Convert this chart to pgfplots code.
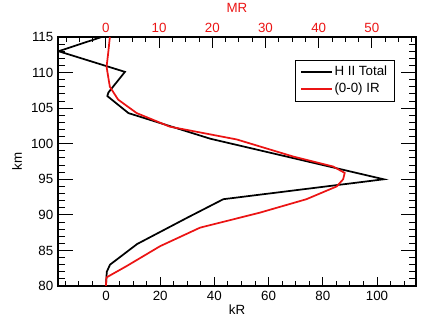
\documentclass[border=0pt]{standalone}
\usepackage{pgfplots}
\pgfplotsset{compat=1.18}
\usepackage{fontspec}
\setmainfont{Liberation Sans}
\definecolor{myred}{RGB}{235,20,20}
\begin{document}
\begin{tikzpicture}
\useasboundingbox (-43.5pt,-28.5pt) rectangle ++(318pt,243pt);
% label axis (kR / km) with black curve, legend and tick marks
\begin{axis}[
  at={(0,0)}, anchor=south west,
  scale only axis, width=268.5pt, height=186.75pt,
  xmin=-17.7, xmax=114.4, ymin=80, ymax=115,
  xtick={0,20,...,100}, xticklabels={0,20,40,60,80,100},
  ytick={80,85,...,115}, yticklabels={80,85,90,95,100,105,110,115},
  major tick length=0pt, minor tick length=0pt,
  axis line style={line width=0.9pt},
  ticklabel style={font=\fontsize{10}{12}\selectfont},
  label style={font=\fontsize{10}{12}\selectfont},
  xlabel={kR}, ylabel={km},
  xlabel style={yshift=3pt},
  legend style={at={(0.941,0.908)}, anchor=north east, draw=black, line width=0.6pt,
    font=\fontsize{10}{12}\selectfont, inner xsep=4pt, inner ysep=3pt, row sep=1pt,
    nodes={inner sep=1.5pt}},
  legend cell align=left,
  legend image code/.code={\draw[#1] (0cm,0cm) -- (0.8cm,0cm);},
]
\pgfplotsinvokeforeach{0,20,40,60,80,100}{\draw[black, line width=0.7pt] (axis cs:#1,80) -- ++(0pt,7pt);}
\pgfplotsinvokeforeach{-15,-10,-5,5,10,15,25,30,35,45,50,55,65,70,75,85,90,95,105,110}{\draw[black, line width=0.7pt] (axis cs:#1,80) -- ++(0pt,3.5pt);}
\pgfplotsinvokeforeach{80,85,90,95,100,105,110,115}{\draw[black, line width=0.7pt] (axis cs:-17.7,#1) -- ++(11pt,0pt); \draw[black, line width=0.7pt] (axis cs:114.4,#1) -- ++(-11pt,0pt);}
\pgfplotsinvokeforeach{81,82,83,84,86,87,88,89,91,92,93,94,96,97,98,99,101,102,103,104,106,107,108,109,111,112,113,114}{\draw[black, line width=0.7pt] (axis cs:-17.7,#1) -- ++(5pt,0pt); \draw[black, line width=0.7pt] (axis cs:114.4,#1) -- ++(-5pt,0pt);}
\addplot[black, line width=1.3pt, forget plot] coordinates {
(-1.6,115) (-17.5,113) (7,110.1) (0.9,107.2) (0.5,106.7) (8.3,104.3)
(38.5,100.7) (102.5,95) (43.3,92.2) (30,89.6) (11.5,85.9) (1.5,83) (0.3,82) (0,80)};
\addlegendimage{black, line width=1.3pt}
\addlegendentry{H II Total}
\addlegendimage{myred, line width=1.3pt}
\addlegendentry{(0-0) IR}
\end{axis}
% MR axis (top) with red curve
\begin{axis}[
  at={(0,0)}, anchor=south west,
  scale only axis, width=268.5pt, height=186.75pt,
  xmin=-9.0, xmax=58.3, ymin=80, ymax=115,
  axis x line*=top, axis y line=none,
  xtick={0,10,...,50}, xticklabels={0,10,20,30,40,50},
  major tick length=0pt, minor tick length=0pt,
  axis line style={line width=0.9pt},
  ticklabel style={font=\fontsize{10}{12}\selectfont, text=myred},
  label style={font=\fontsize{10}{12}\selectfont, text=myred},
  xlabel={MR}, xlabel style={yshift=1pt},
]
\pgfplotsinvokeforeach{0,10,20,30,40,50}{\draw[black, line width=0.7pt] (axis cs:#1,115) -- ++(0pt,-8pt);}
\pgfplotsinvokeforeach{-7.5,-5,-2.5,2.5,5,7.5,12.5,15,17.5,22.5,25,27.5,32.5,35,37.5,42.5,45,47.5,52.5,55,57.5}{\draw[black, line width=0.7pt] (axis cs:#1,115) -- ++(0pt,-3.5pt);}
\addplot[myred, line width=1.3pt] coordinates {
(0.75,115) (0.43,112.7) (0.13,110.8) (0.75,108) (2.3,106.2) (5.8,104.3)
(12,102.4) (24.6,100.6) (35.2,98.2) (42.7,96.8) (44.9,95.9) (44.6,95)
(43.4,94) (37.7,92.2) (28.9,90.3) (17.7,88.2) (10.2,85.6) (3.9,82.8) (0.1,81.2) (0,80)};
\end{axis}
\end{tikzpicture}
\end{document}
